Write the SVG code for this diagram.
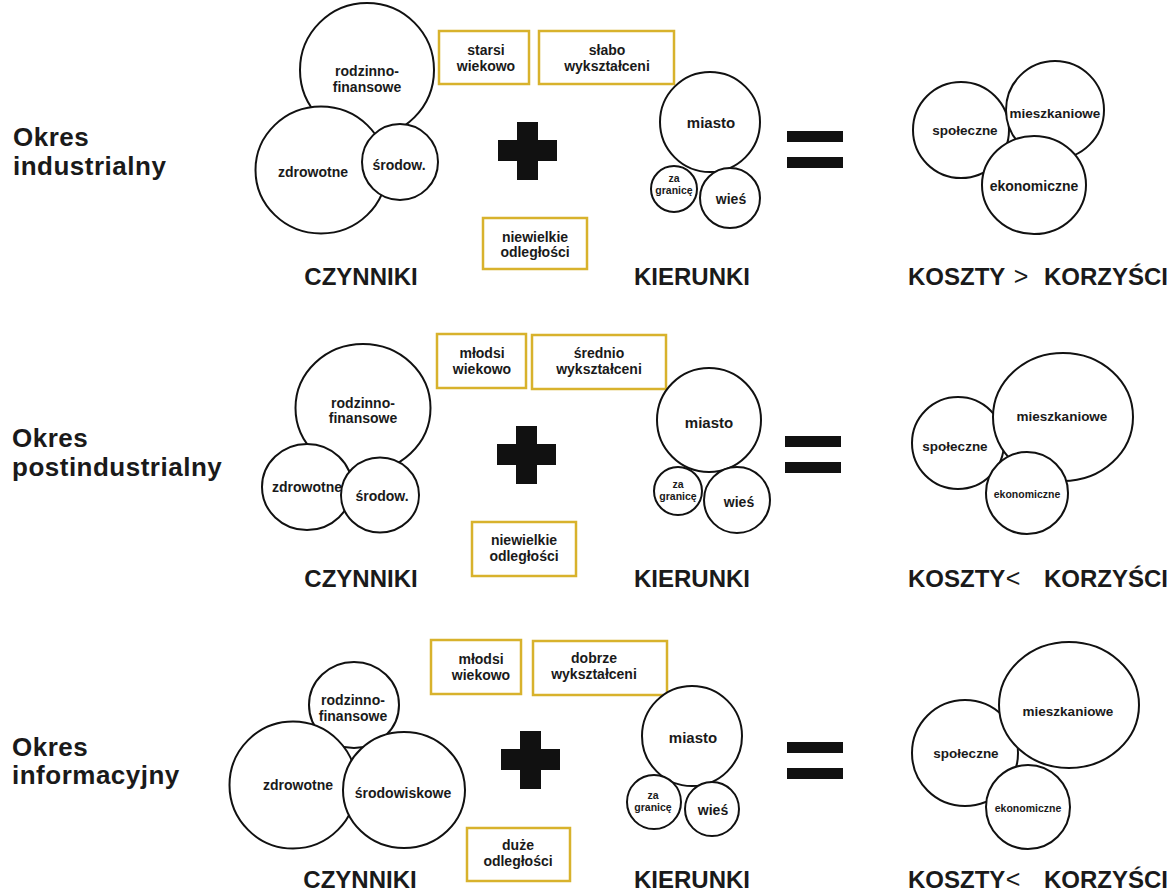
<svg xmlns="http://www.w3.org/2000/svg" xmlns:xlink="http://www.w3.org/1999/xlink" width="1174" height="893" viewBox="0 0 1174 893">
<style>
.c{fill:#fff;stroke:#111;stroke-width:2}
.b{fill:#fff;stroke:#d8b22c;stroke-width:2.5}
.k{fill:#111}
text{font-family:"Liberation Sans",Arial,Helvetica,sans-serif;font-weight:bold;fill:#1a1a1a;text-anchor:middle}
.f14{font-size:14px}
.f13{font-size:13.5px}
.f15{font-size:15px}
.f10{font-size:10.5px}
.h{font-size:24px}
.ttl{font-size:26px;letter-spacing:0.5px;text-anchor:start}
.rel{font-weight:normal;font-size:25px}
.st{text-anchor:start}
.en{text-anchor:end}
</style>
<defs>
<path id="plus" d="M19,0 h21 v18 h19 v21 h-19 v19 h-21 v-19 h-19 v-21 h19 z"/>
<g id="eq"><rect x="0" y="0" width="56" height="11"/><rect x="0" y="26" width="56" height="11"/></g>
</defs>
<rect width="1174" height="893" fill="#fff"/>

<!-- ROW 1 -->
<g id="title1"><text class="ttl" x="13" y="146">Okres</text><text class="ttl" x="13" y="175">industrialny</text></g>
<g id="r1-rodzinno"><circle class="c" cx="367" cy="70" r="67"/></g>
<g id="r1-zdrowotne"><ellipse class="c" cx="321" cy="170" rx="65.5" ry="63.5"/></g>
<g id="r1-srodow"><circle class="c" cx="400" cy="162" r="38"/></g>
<g id="r1-labels-left">
<text class="f14" x="367" y="76">rodzinno-</text><text class="f14" x="367" y="92">finansowe</text>
<text class="f14" x="313" y="177">zdrowotne</text>
<text class="f14" x="399" y="170">środow.</text>
</g>
<g id="r1-starsi"><rect class="b" x="439" y="31" width="90" height="53"/><text class="f14" x="486" y="55">starsi</text><text class="f14" x="486" y="71">wiekowo</text></g>
<g id="r1-slabo"><rect class="b" x="539" y="31" width="135" height="53"/><text class="f14" x="607" y="55">słabo</text><text class="f14" x="607" y="71">wykształceni</text></g>
<g id="r1-odl"><rect class="b" x="483" y="218" width="104" height="51"/><text class="f14" x="535" y="242">niewielkie</text><text class="f14" x="535" y="257">odległości</text></g>
<g id="r1-plus"><use xlink:href="#plus" href="#plus" class="k" x="498" y="122"/></g>
<g id="r1-czynniki"><text class="h" x="361" y="285">CZYNNIKI</text></g>
<g id="r1-miasto"><circle class="c" cx="710" cy="122" r="50"/><text class="f15" x="711" y="128">miasto</text></g>
<g id="r1-za"><circle class="c" cx="674" cy="189" r="23"/><text class="f10" x="674" y="182">za</text><text class="f10" x="674" y="194">granicę</text></g>
<g id="r1-wies"><circle class="c" cx="730" cy="198" r="30"/><text class="f14" x="731" y="204">wieś</text></g>
<g id="r1-eq"><use xlink:href="#eq" href="#eq" class="k" x="787" y="131"/></g>
<g id="r1-kierunki"><text class="h" x="692" y="285">KIERUNKI</text></g>
<g id="r1-spol"><circle class="c" cx="961" cy="130" r="48"/></g>
<g id="r1-mieszk"><circle class="c" cx="1055" cy="110" r="49"/></g>
<g id="r1-ekon"><ellipse class="c" cx="1034" cy="185" rx="52" ry="49"/></g>
<g id="r1-labels-right">
<text class="f13" x="965" y="135">społeczne</text>
<text class="f13" x="1055" y="118">mieszkaniowe</text>
<text class="f14" x="1034" y="191">ekonomiczne</text>
</g>
<g id="r1-bilans"><text class="h st" x="908" y="285">KOSZTY</text><text class="rel" x="1021" y="285">&gt;</text><text class="h en" x="1168" y="285">KORZYŚCI</text></g>

<!-- ROW 2 -->
<g id="title2"><text class="ttl" x="12" y="447">Okres</text><text class="ttl" x="12" y="476">postindustrialny</text></g>
<g id="r2-rodzinno"><ellipse class="c" cx="363" cy="408" rx="67.5" ry="64"/></g>
<g id="r2-zdrowotne"><ellipse class="c" cx="307" cy="487" rx="45" ry="43"/></g>
<g id="r2-srodow"><ellipse class="c" cx="380" cy="495" rx="39" ry="37.5"/></g>
<g id="r2-labels-left">
<text class="f14" x="363" y="408">rodzinno-</text><text class="f14" x="363" y="423">finansowe</text>
<text class="f14" x="307" y="492">zdrowotne</text>
<text class="f14" x="382" y="501">środow.</text>
</g>
<g id="r2-mlodsi"><rect class="b" x="437" y="334" width="89" height="54"/><text class="f14" x="482" y="358">młodsi</text><text class="f14" x="482" y="374">wiekowo</text></g>
<g id="r2-srednio"><rect class="b" x="532" y="335" width="134" height="54"/><text class="f14" x="599" y="358">średnio</text><text class="f14" x="599" y="374">wykształceni</text></g>
<g id="r2-odl"><rect class="b" x="472" y="522" width="104" height="54"/><text class="f14" x="524" y="545">niewielkie</text><text class="f14" x="524" y="561">odległości</text></g>
<g id="r2-plus"><use xlink:href="#plus" href="#plus" class="k" x="497" y="426"/></g>
<g id="r2-czynniki"><text class="h" x="361" y="587">CZYNNIKI</text></g>
<g id="r2-miasto"><circle class="c" cx="709" cy="420" r="52"/><text class="f15" x="709" y="428">miasto</text></g>
<g id="r2-za"><circle class="c" cx="678" cy="491" r="24"/><text class="f10" x="678" y="488">za</text><text class="f10" x="678" y="500">granicę</text></g>
<g id="r2-wies"><circle class="c" cx="737" cy="500" r="33"/><text class="f14" x="739" y="507">wieś</text></g>
<g id="r2-eq"><use xlink:href="#eq" href="#eq" class="k" x="785" y="436"/></g>
<g id="r2-kierunki"><text class="h" x="692" y="587">KIERUNKI</text></g>
<g id="r2-spol"><circle class="c" cx="958" cy="443" r="46"/></g>
<g id="r2-mieszk"><ellipse class="c" cx="1063" cy="417" rx="70" ry="64"/></g>
<g id="r2-ekon"><circle class="c" cx="1027" cy="493" r="41"/></g>
<g id="r2-labels-right">
<text class="f13" x="955" y="451">społeczne</text>
<text class="f13" x="1062" y="421">mieszkaniowe</text>
<text class="f10" x="1027" y="498">ekonomiczne</text>
</g>
<g id="r2-bilans"><text class="h st" x="908" y="587">KOSZTY</text><text class="rel" x="1013" y="587">&lt;</text><text class="h en" x="1168" y="587">KORZYŚCI</text></g>

<!-- ROW 3 -->
<g id="title3"><text class="ttl" x="12" y="756">Okres</text><text class="ttl" x="12" y="784">informacyjny</text></g>
<g id="r3-rodzinno"><ellipse class="c" cx="354" cy="705" rx="45" ry="43"/></g>
<g id="r3-zdrowotne"><circle class="c" cx="293" cy="785" r="63.5"/></g>
<g id="r3-srodow"><ellipse class="c" cx="404" cy="790" rx="61" ry="58"/></g>
<g id="r3-labels-left">
<text class="f14" x="353" y="705">rodzinno-</text><text class="f14" x="353" y="721">finansowe</text>
<text class="f14" x="298" y="790">zdrowotne</text>
<text class="f14" x="403" y="798">środowiskowe</text>
</g>
<g id="r3-mlodsi"><rect class="b" x="431" y="640" width="90" height="54"/><text class="f14" x="481" y="664">młodsi</text><text class="f14" x="481" y="680">wiekowo</text></g>
<g id="r3-dobrze"><rect class="b" x="533" y="641" width="134" height="54"/><text class="f14" x="594" y="663">dobrze</text><text class="f14" x="594" y="679">wykształceni</text></g>
<g id="r3-odl"><rect class="b" x="467" y="828" width="103" height="53"/><text class="f14" x="518" y="850">duże</text><text class="f14" x="518" y="866">odległości</text></g>
<g id="r3-plus"><use xlink:href="#plus" href="#plus" class="k" x="501" y="731"/></g>
<g id="r3-czynniki"><text class="h" x="360" y="888">CZYNNIKI</text></g>
<g id="r3-miasto"><circle class="c" cx="692" cy="736" r="50"/><text class="f15" x="693" y="743">miasto</text></g>
<g id="r3-za"><circle class="c" cx="654" cy="802" r="27"/><text class="f10" x="653" y="799">za</text><text class="f10" x="653" y="811">granicę</text></g>
<g id="r3-wies"><circle class="c" cx="712" cy="809" r="27"/><text class="f14" x="713" y="815">wieś</text></g>
<g id="r3-eq"><use xlink:href="#eq" href="#eq" class="k" x="787" y="742"/></g>
<g id="r3-kierunki"><text class="h" x="692" y="888">KIERUNKI</text></g>
<g id="r3-spol"><circle class="c" cx="965" cy="753" r="53"/></g>
<g id="r3-mieszk"><ellipse class="c" cx="1069" cy="705" rx="70" ry="63"/></g>
<g id="r3-ekon"><circle class="c" cx="1028" cy="807" r="42"/></g>
<g id="r3-labels-right">
<text class="f13" x="966" y="758">społeczne</text>
<text class="f13" x="1068" y="716">mieszkaniowe</text>
<text class="f10" x="1028" y="812">ekonomiczne</text>
</g>
<g id="r3-bilans"><text class="h st" x="908" y="888">KOSZTY</text><text class="rel" x="1013" y="888">&lt;</text><text class="h en" x="1168" y="888">KORZYŚCI</text></g>
</svg>
